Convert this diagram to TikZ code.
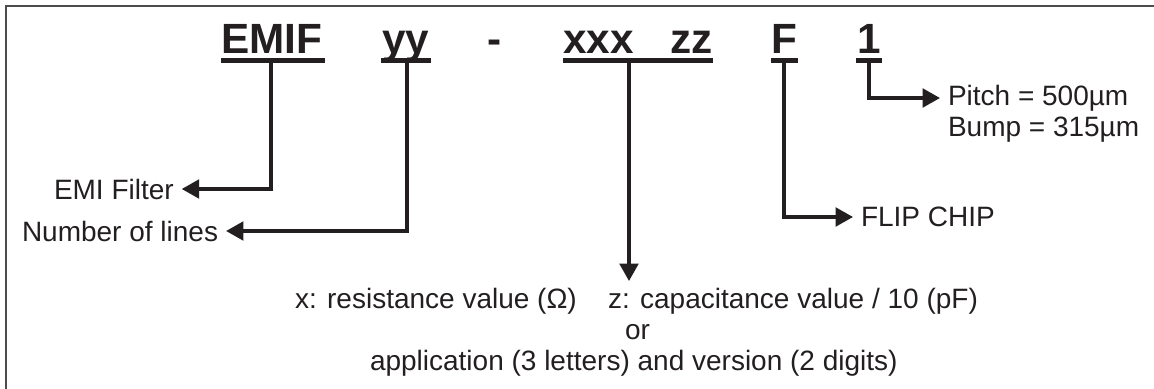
\documentclass[tikz,border=0pt]{standalone}
\usepackage{fontspec}
\setmainfont{Liberation Sans}
\usetikzlibrary{arrows.meta}
\definecolor{ink}{RGB}{35,31,32}
\begin{document}
\begin{tikzpicture}[x=0.75pt,y=-0.75pt,
  every node/.style={text=ink},
  code/.style={font=\fontsize{31.7}{36}\selectfont\bfseries, inner sep=0pt, anchor=base west},
  lbl/.style={font=\fontsize{21}{25}\selectfont, inner sep=0pt, outer xsep=6pt},
  uline/.style={draw=ink, line width=3.75pt},
  conn/.style={draw=ink, line width=2.3pt, -{Triangle[length=13pt,width=14pt]}},
  frame/.style={line width=1.5pt, draw=black!70}]
\useasboundingbox (0,0) rectangle (1154,389);
\draw[frame] (5.5,389) -- (5.5,5.5) -- (1154,5.5);
% code letters
\node[code] (emif) at (221,53) {EMIF};
\node[code] (yy) at (382,53) {yy};
\node[code] (dash) at (487,53) {-};
\node[code] (xxx) at (563,53) {xxx};
\node[code] (zz) at (670,53) {zz};
\node[code] (ff) at (771,53) {F};
\node[code] (one) at (857,53) {1};
% underlines
\draw[uline] (221,60) -- (325,60);
\draw[uline] (381,60) -- (431,60);
\draw[uline] (563,60) -- (713,60);
\draw[uline] (771,60) -- (798,60);
\draw[uline] (856,60) -- (882,60);
% connector start points
\coordinate (c1) at (271,62);
\coordinate (c2) at (407,62);
\coordinate (c3) at (629,62);
\coordinate (c4) at (784,62);
\coordinate (c5) at (869,62);
% labels
\node[lbl, anchor=west, outer xsep=0pt] (emi) at (54,189) {EMI Filter};
\node[lbl, anchor=west, outer xsep=0pt] (nol) at (22,231) {Number of lines};
\node[lbl, anchor=west] (flip) at (853,217) {FLIP CHIP};
\node[lbl, anchor=west] (pitch) at (940,98) {Pitch = 500µm};
\node[lbl, anchor=base west, outer xsep=0pt] (bump) at (948,136) {Bump = 315µm};
\node[lbl, anchor=base west, outer xsep=0pt] (res) at (295,308) {x: resistance value (Ω)};
\node[lbl, anchor=base west, outer xsep=0pt] (cap) at (608,308) {z: capacitance value / 10 (pF)};
\node[lbl, anchor=base west, outer xsep=0pt] (or) at (625,339) {or};
\node[lbl, anchor=base west, outer xsep=0pt] (app) at (370,370) {application (3 letters) and version (2 digits)};
\coordinate (t1) at ([xshift=6pt]emi.east);
\coordinate (t2) at ([xshift=6pt]nol.east);
\coordinate (t3) at (629,281);
% connectors
\draw[conn] (c1) |- (t1);
\draw[conn] (c2) |- (t2);
\draw[conn] (c3) -- (t3);
\draw[conn] (c4) |- (flip.west);
\draw[conn] (c5) |- (pitch.west);
\end{tikzpicture}
\end{document}
